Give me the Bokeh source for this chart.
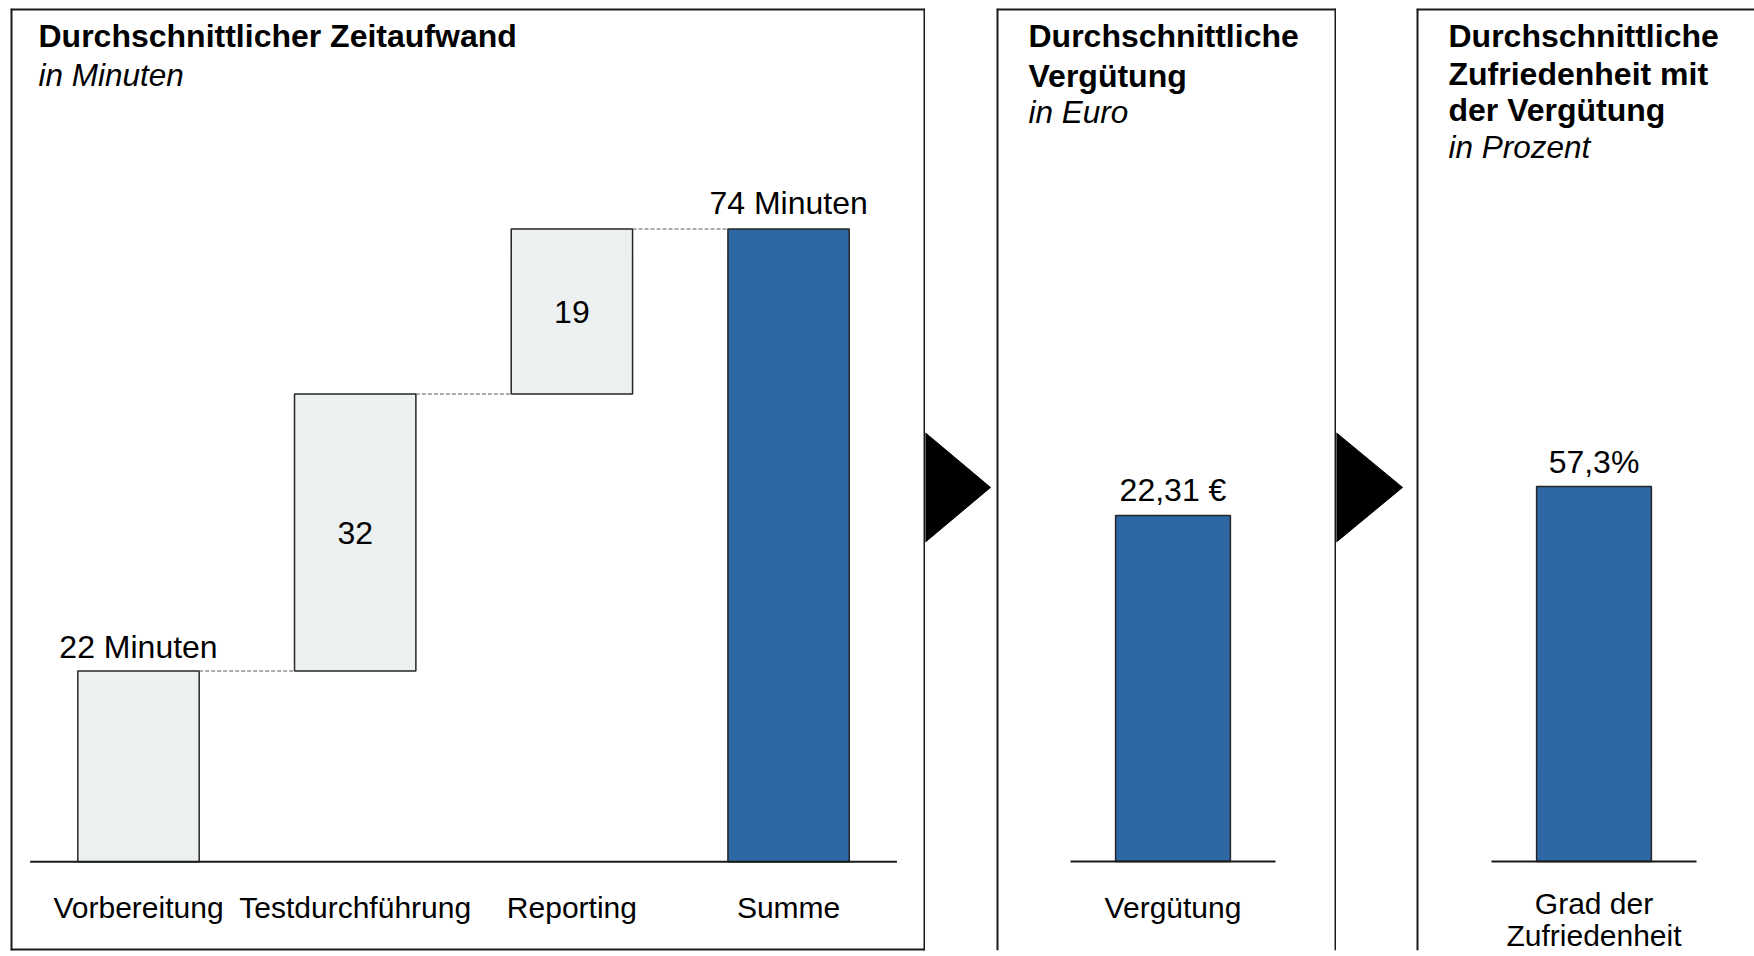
from bokeh.plotting import figure
from bokeh.layouts import row
from bokeh.models import Range1d, ColumnDataSource, Label
from bokeh.core.properties import value
from bokeh.embed import file_html
from bokeh.resources import INLINE

# ---------------- data ----------------
step_categories = ["Vorbereitung", "Testdurchführung", "Reporting"]
step_minutes = [22.3, 32.4, 19.3]
total_category = "Summe"

pay_categories = ["Vergütung"]
pay_euro = [22.31]

sat_categories = ["Grad der\nZufriedenheit"]
sat_percent = [57.3]

title_time = ["Durchschnittlicher Zeitaufwand"]
sub_time = "in Minuten"
title_pay = ["Durchschnittliche", "Vergütung"]
sub_pay = "in Euro"
title_sat = ["Durchschnittliche", "Zufriedenheit mit", "der Vergütung"]
sub_sat = "in Prozent"

# ---------------- style ----------------
FONT = "Liberation Sans"
GREY = "#EDF0F1"
BLUE = "#2D68A4"
EDGE = "#262626"
BORDER = "#1a1a1a"
BAR_W = 0.56
CANVAS_TOP = 0
CANVAS_H = 956
BASE_PX = 861  # page y of the baseline


def afix(size):
    # alphabetic text renders lower than its anchor in the svg backend
    return -0.36 * size


def make_panel(canvas_left, canvas_w, mb_left, mb_right, mb_top, mb_bottom,
               x0_px, x_unit, y_unit):
    fl = canvas_left + mb_left
    fr = canvas_left + canvas_w - mb_right
    ft = CANVAS_TOP + mb_top
    fb = CANVAS_TOP + CANVAS_H - mb_bottom
    xr = Range1d((fl - x0_px) / x_unit, (fr - x0_px) / x_unit)
    yr = Range1d((BASE_PX - fb) / y_unit, (BASE_PX - ft) / y_unit)
    p = figure(width=canvas_w, height=CANVAS_H, x_range=xr, y_range=yr,
               x_axis_type=None, y_axis_type=None, title=None,
               output_backend="svg", toolbar_location=None,
               min_border_left=mb_left, min_border_right=mb_right,
               min_border_top=mb_top, min_border_bottom=mb_bottom,
               outline_line_color=None, background_fill_color="white",
               border_fill_color="white")
    p.grid.visible = False
    px2x = lambda X: (X - x0_px) / x_unit
    px2y = lambda Y: (BASE_PX - Y) / y_unit
    return p, px2x, px2y


def borders(p, sides):
    x0, x1 = p.x_range.start, p.x_range.end
    y0, y1 = p.y_range.start, p.y_range.end
    segs = {"left": (x0, y0, x0, y1), "right": (x1, y0, x1, y1),
            "top": (x0, y1, x1, y1), "bottom": (x0, y0, x1, y0)}
    for s in sides:
        a, b, c, d = segs[s]
        p.segment(x0=[a], y0=[b], x1=[c], y1=[d], line_color=BORDER, line_width=4)


def titles(p, px2x, px2y, x_px, lines, sub, ys):
    p.text(x=[px2x(x_px)] * len(lines), y=[px2y(y + afix(32)) for y in ys[:-1]], text=lines,
           text_font=value(FONT), text_font_size="32px", text_font_style="bold",
           text_align="left", text_baseline="alphabetic", text_color="black")
    p.text(x=[px2x(x_px)], y=[px2y(ys[-1] + afix(31.5))], text=[sub],
           text_font=value(FONT), text_font_size="31.5px", text_font_style="italic",
           text_align="left", text_baseline="alphabetic", text_color="black")


def cat_labels(p, px2y, xs, labels, first_px=918, line_step=35.5):
    for x, lab in zip(xs, labels):
        for k, line in enumerate(lab.split("\n")):
            p.add_layout(Label(x=x, y=px2y(first_px + k * line_step + afix(30)), text=line,
                               text_font=FONT, text_font_size="30px", text_align="center",
                               text_baseline="alphabetic", text_color="black"))


def value_labels(p, xs, ys, texts, gap):
    p.text(x=xs, y=ys, text=texts, y_offset=-gap + afix(32), text_font=value(FONT),
           text_font_size="32px", text_align="center", text_baseline="alphabetic",
           text_color="black")


# ---------------- panel 1: waterfall ----------------
p1, x1f, y1f = make_panel(0, 925, 10, 0, 6, 6, 138, 216.7, 634 / 74)
n = len(step_categories)
bottoms, tops = [], []
acc = 0.0
for v in step_minutes:
    bottoms.append(acc)
    acc += v
    tops.append(acc)
total = acc
xs = list(range(n + 1))
colors = [GREY] * n + [BLUE]
src = ColumnDataSource(dict(x=xs, bottom=bottoms + [0], top=tops + [total], color=colors))
p1.vbar(x="x", bottom="bottom", top="top", width=BAR_W, fill_color="color",
        line_color=EDGE, line_width=1.5, source=src)
# dashed connectors
p1.segment(x0=[i + BAR_W / 2 for i in range(n)], x1=[i + 1 - BAR_W / 2 for i in range(n)],
           y0=tops, y1=tops, line_color="#5a5a5a", line_width=1, line_dash="4 2")
# baseline
p1.segment(x0=[-0.5], x1=[n + 0.5], y0=[0], y1=[0], line_color="#1a1a1a", line_width=2)
# value labels
value_labels(p1, [0], [tops[0]], [f"{round(step_minutes[0])} Minuten"], 13)
value_labels(p1, [n], [total], [f"{round(total)} Minuten"], 15)
mid_x = list(range(1, n))
mid_y = [(bottoms[i] + tops[i]) / 2 for i in range(1, n)]
mid_t = [str(round(step_minutes[i])) for i in range(1, n)]
p1.text(x=mid_x, y=mid_y, text=mid_t, text_font=value(FONT), text_font_size="32px",
        text_align="center", text_baseline="middle", text_color="black")
cat_labels(p1, y1f, xs, step_categories + [total_category])
titles(p1, x1f, y1f, 38, title_time, sub_time, [45, 84])
borders(p1, ["left", "right", "top", "bottom"])


# ---------------- arrows ----------------
def arrow(w, tip):
    a = figure(width=w, height=CANVAS_H, x_range=Range1d(0, w), y_range=Range1d(CANVAS_H - 6, 0),
               x_axis_type=None, y_axis_type=None, title=None, output_backend="svg",
               toolbar_location=None, min_border_left=0, min_border_right=0,
               min_border_top=0, min_border_bottom=6, outline_line_color=None,
               background_fill_color="white", border_fill_color="white")
    a.grid.visible = False
    a.patch([0, tip, 0], [428, 483, 538], fill_color="black", line_color="black", line_width=1)
    return a


a1 = arrow(71, 65)
a2 = arrow(80, 66)

# ---------------- panel 2: pay ----------------
p2, x2f, y2f = make_panel(996, 340, 0, 0, 8, 6, 1172.5, 205, 346 / 22.31)
p2.vbar(x=[0], bottom=[0], top=pay_euro, width=BAR_W, fill_color=BLUE, line_color=EDGE, line_width=1.5)
p2.segment(x0=[-0.5], x1=[0.5], y0=[0], y1=[0], line_color="#1a1a1a", line_width=2)
value_labels(p2, [0], pay_euro, [f"{v:.2f}".replace(".", ",") + " €" for v in pay_euro], 14)
cat_labels(p2, y2f, [0], pay_categories)
titles(p2, x2f, y2f, 1028, title_pay, sub_pay, [47, 87, 123])
borders(p2, ["left", "right", "top"])

# ---------------- panel 3: satisfaction ----------------
p3, x3f, y3f = make_panel(1416, 338, 0, 0, 8, 6, 1593.5, 205, 375 / 57.3)
p3.vbar(x=[0], bottom=[0], top=sat_percent, width=BAR_W, fill_color=BLUE, line_color=EDGE, line_width=1.5)
p3.segment(x0=[-0.5], x1=[0.5], y0=[0], y1=[0], line_color="#1a1a1a", line_width=2)
value_labels(p3, [0], sat_percent, [f"{v:.1f}".replace(".", ",") + "%" for v in sat_percent], 13)
cat_labels(p3, y3f, [0], sat_categories, first_px=914, line_step=32)
titles(p3, x3f, y3f, 1448, title_sat, sub_sat, [47, 85, 121, 158])
borders(p3, ["left", "top"])

layout = row(p1, a1, p2, a2, p3, spacing=0)
open("out.html", "w").write(file_html(layout, INLINE))
